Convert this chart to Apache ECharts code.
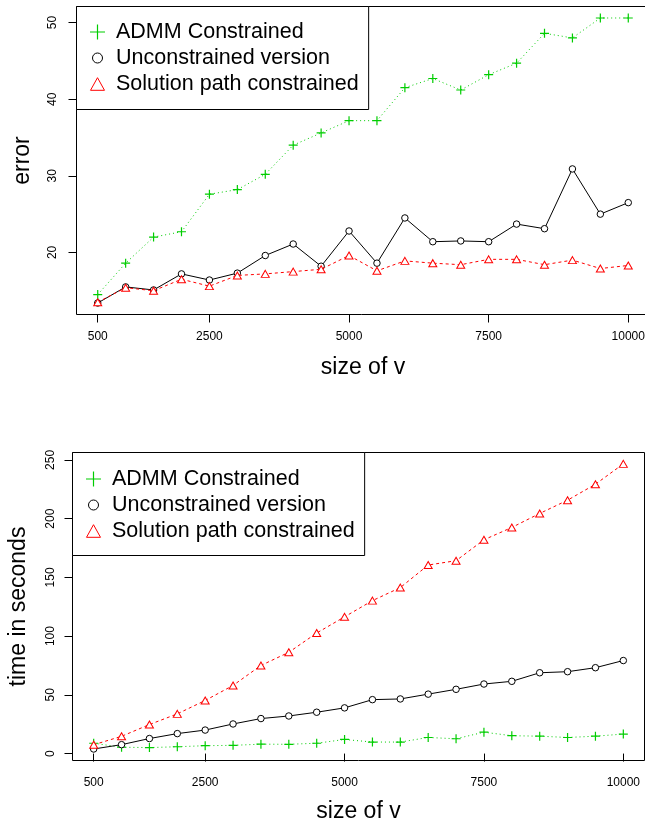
<!DOCTYPE html>
<html><head><meta charset="utf-8">
<script src="https://cdn.jsdelivr.net/npm/echarts@6/dist/echarts.min.js"></script>
<style>html,body{margin:0;padding:0;background:#fff}#c{width:645px;height:821px}</style>
</head><body><div id="c"></div>
<script>
// ---- data ----
const sizes = [500,1000,1500,2000,2500,3000,3500,4000,4500,5000,5500,6000,6500,7000,7500,8000,8500,9000,9500,10000];
const seriesNames = ['ADMM Constrained','Unconstrained version','Solution path constrained'];
// top panel: error
const errAdmm  = [14.5,18.6,22.0,22.7,27.6,28.2,30.2,34.0,35.6,37.2,37.2,41.5,42.7,41.2,43.2,44.7,48.6,48.0,50.6,50.6];
const errUncon = [13.4,15.5,15.1,17.2,16.4,17.3,19.6,21.1,18.2,22.8,18.6,24.5,21.4,21.5,21.4,23.7,23.1,30.9,25.0,26.5];
const errPath  = [13.5,15.4,15.0,16.5,15.6,17.0,17.2,17.5,17.8,19.6,17.6,18.9,18.6,18.4,19.1,19.1,18.4,19.0,17.9,18.3];
// bottom panel: time in seconds
const timeAdmm  = [8.8,5.4,5.1,5.8,6.7,7.0,8.0,7.9,8.8,12.0,9.8,9.8,13.7,12.6,18.2,15.2,14.8,13.7,14.8,16.6];
const timeUncon = [3.9,7.6,12.8,17.0,20.0,25.2,29.8,32.0,35.2,38.9,45.9,46.5,50.6,54.7,59.2,61.5,68.8,69.7,73.1,79.2];
const timePath  = [7.5,14.7,24.7,33.8,45.2,58.0,75.0,86.2,102.6,116.4,130.2,141.3,160.5,164.2,182.0,192.5,204.4,215.7,229.3,246.6];
// ticks
const xTicks = [500,2500,5000,7500,10000];
const errTicks = [20,30,40,50];
const timeTicks = [0,50,100,150,200,250];

// ---- styles ----
const FONT = "'Liberation Sans', Arial, Helvetica, sans-serif";
const GREEN = '#00CD00', RED = '#FF0000', BLACK = '#000000';
const PLUS = 'path://M0,5L10,5M5,0L5,10';
const CIRC = 'path://M10,5A5,5,0,1,1,0,5A5,5,0,1,1,10,5Z';
const TRI  = 'path://M5,0L10,8.66L0,8.66Z';
const LEG_PLUS = 'path://M0,0M21,15M0,7.5L15,7.5M7.5,0L7.5,15';
const LEG_CIRC = 'path://M0,0M21,15M12.5,7.5A5,5,0,1,1,2.5,7.5A5,5,0,1,1,12.5,7.5Z';
const LEG_TRI  = 'path://M0,0M21,15M7.5,1.2L14.5,13.8L0.5,13.8Z';

function pairs(ys){ return sizes.map((x,i)=>[x,ys[i]]); }

function seriesFor(g, a, u, p){
  const common = {type:'line', xAxisIndex:g, yAxisIndex:g, showSymbol:true, showAllSymbol:true,
                  silent:true, emphasis:{disabled:true}, animation:false, clip:false};
  return [
    Object.assign({}, common, {name:seriesNames[0], data:pairs(a), symbol:PLUS, symbolSize:9, z:2,
      lineStyle:{color:GREEN, width:1, type:[1,3]},
      itemStyle:{color:GREEN, borderColor:GREEN, borderWidth:1.2}}),
    Object.assign({}, common, {name:seriesNames[1], data:pairs(u), symbol:CIRC, symbolSize:6.5, z:3,
      lineStyle:{color:BLACK, width:1},
      itemStyle:{color:'#fff', borderColor:BLACK, borderWidth:1}}),
    Object.assign({}, common, {name:seriesNames[2], data:pairs(p), symbol:TRI, symbolSize:[8,7], z:4,
      lineStyle:{color:RED, width:1, type:[3,3]},
      itemStyle:{color:'#fff', borderColor:RED, borderWidth:1}})
  ];
}

function xAxisFor(g, gap){
  return {gridIndex:g, type:'value', min:120, max:10380,
    axisLine:{show:false}, splitLine:{show:false},
    axisTick:{show:true, length:8, customValues:xTicks, lineStyle:{color:'#000', width:1}},
    axisLabel:{customValues:xTicks, formatter:v=>String(v), fontSize:12, color:'#000', fontFamily:FONT, margin:16},
    name:'size of v', nameLocation:'middle', nameGap:gap, nameMoveOverlap:false,
    nameTextStyle:{fontSize:23, color:'#000', fontFamily:FONT}};
}
function yAxisFor(g, min, max, ticks, name, lblMargin){
  return {gridIndex:g, type:'value', min:min, max:max,
    axisLine:{show:false}, splitLine:{show:false},
    axisTick:{show:true, length:8, customValues:ticks, lineStyle:{color:'#000', width:1}},
    axisLabel:{customValues:ticks, formatter:v=>String(v), rotate:90, fontSize:12, color:'#000', fontFamily:FONT, margin:lblMargin},
    name:name, nameLocation:'middle', nameGap:42, nameRotate:90, nameMoveOverlap:false,
    nameTextStyle:{fontSize:23, color:'#000', fontFamily:FONT}};
}
function legendFor(left, top, pad){
  return {show:true, orient:'vertical', left:left, top:top, padding:pad,
    itemWidth:21, itemHeight:15, itemGap:4, selectedMode:false,
    backgroundColor:'#fff', borderColor:'#000', borderWidth:1, borderRadius:0,
    textStyle:{fontSize:21.5, color:'#000', fontFamily:FONT, lineHeight:22},
    data:[
      {name:seriesNames[0], icon:LEG_PLUS, itemStyle:{color:'none', borderColor:GREEN, borderWidth:1.2}},
      {name:seriesNames[1], icon:LEG_CIRC, itemStyle:{color:'none', borderColor:BLACK, borderWidth:1}},
      {name:seriesNames[2], icon:LEG_TRI,  itemStyle:{color:'none', borderColor:RED, borderWidth:1}}
    ]};
}

const chart = echarts.init(document.getElementById('c'), null, {renderer:'canvas'});
chart.setOption({
  animation:false,
  backgroundColor:'#fff',
  textStyle:{fontFamily:FONT},
  grid:[
    {left:76.5, top:6.5, width:573, height:308, show:true, borderColor:'#000', borderWidth:1,
     backgroundColor:'transparent', containLabel:false, outerBoundsMode:'none'},
    {left:72.5, top:452.5, width:572, height:308, show:true, borderColor:'#000', borderWidth:1,
     backgroundColor:'transparent', containLabel:false, outerBoundsMode:'none'}
  ],
  xAxis:[xAxisFor(0, 42), xAxisFor(1, 40)],
  yAxis:[yAxisFor(0, 11.9, 52.1, errTicks, 'error', 18),
         yAxisFor(1, -5.9, 256.3, timeTicks, 'time in seconds', 16)],
  legend:[legendFor(76.5, 6.5, [14.5, 10, 14.5, 11]), legendFor(72.5, 452.5, [15.5, 10, 13.5, 11])],
  series:[].concat(seriesFor(0, errAdmm, errUncon, errPath), seriesFor(1, timeAdmm, timeUncon, timePath))
});
</script>
</body></html>
